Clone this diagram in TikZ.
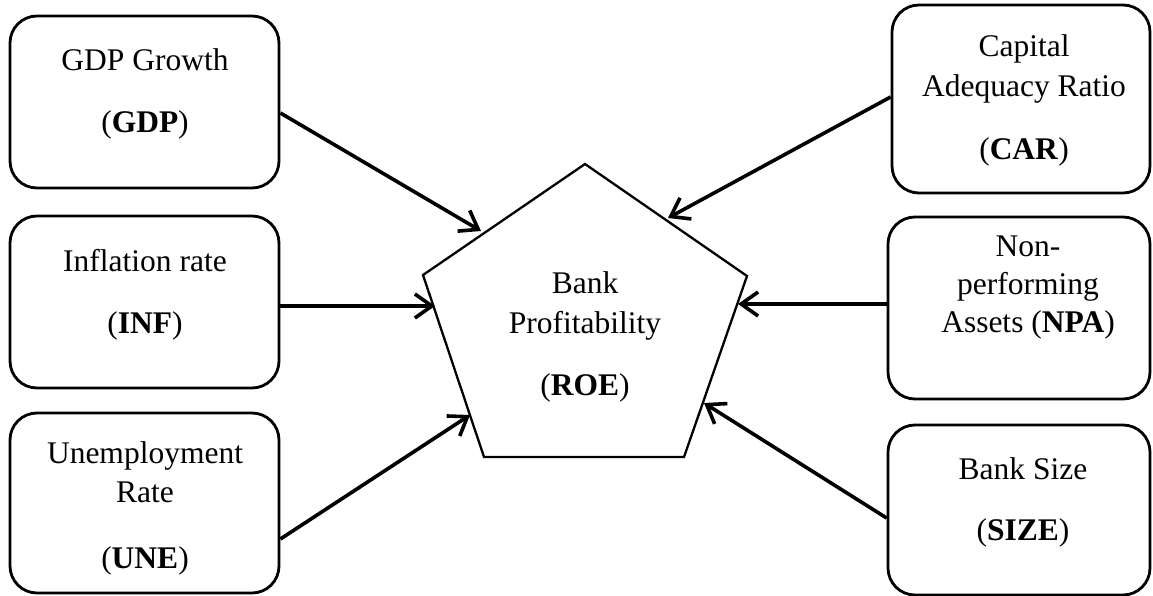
\documentclass[tikz,border=0pt]{standalone}
\usepackage{fontspec}
\setmainfont{Liberation Serif}
\usetikzlibrary{arrows.meta}
\tikzset{
  box/.style={draw, line width=2.8pt, rounded corners=27pt, inner sep=0pt},
  lbl/.style={anchor=base, inner sep=0pt, font=\fontsize{31.5}{38}\selectfont},
  arr/.style={line width=3.6pt, -{Straight Barb[length=17pt,width=24pt]}},
  pent/.style={line width=2.3pt, line join=miter}
}
\begin{document}
\begin{tikzpicture}[x=1pt,y=-1pt]
\useasboundingbox (0,0) rectangle (1153,596);
% boxes
\node[box, minimum width=269pt, minimum height=172pt] (gdp) at (144.5,102) {};
\node[box, minimum width=269pt, minimum height=172pt] (inf) at (144.5,302) {};
\node[box, minimum width=269pt, minimum height=180pt] (une) at (144.5,503) {};
\node[box, minimum width=258pt, minimum height=188pt] (car) at (1021,99) {};
\node[box, minimum width=262pt, minimum height=182pt] (npa) at (1019,308) {};
\node[box, minimum width=262pt, minimum height=170pt] (bsize) at (1019,510) {};
% pentagon
\coordinate (p1) at (585,164);
\coordinate (p2) at (747,276);
\coordinate (p3) at (684,457);
\coordinate (p4) at (484,457);
\coordinate (p5) at (423,275);
\draw[pent] (p1) -- (p2) -- (p3) -- (p4) -- (p5) -- cycle;
% texts
\node[lbl] (gdpA) at (145,71) {GDP Growth};
\node[lbl] (gdpB) at (145,133) {(\textbf{GDP})};
\node[lbl] (infA) at (145,271) {Inflation rate};
\node[lbl] (infB) at (145,333) {(\textbf{INF})};
\node[lbl] (uneA) at (145,463) {Unemployment};
\node[lbl] (uneB) at (145,502) {Rate};
\node[lbl] (uneC) at (145,568) {(\textbf{UNE})};
\node[lbl] (carA) at (1024,57) {Capital};
\node[lbl] (carB) at (1024,97) {Adequacy Ratio};
\node[lbl] (carC) at (1024,160) {(\textbf{CAR})};
\node[lbl] (npaA) at (1028,256) {Non-};
\node[lbl] (npaB) at (1028,294) {performing};
\node[lbl] (npaC) at (1028,332) {Assets (\textbf{NPA})};
\node[lbl] (sizeA) at (1023,479) {Bank Size};
\node[lbl] (sizeB) at (1023,540) {(\textbf{SIZE})};
\node[lbl] (roeA) at (585,293) {Bank};
\node[lbl] (roeB) at (585,333) {Profitability};
\node[lbl] (roeC) at (585,395) {(\textbf{ROE})};
% arrow tips on the pentagon
\coordinate (tgdp) at (481,231);
\coordinate (tinf) at (435,306);
\coordinate (tune) at (470,415);
\coordinate (tcar) at (668,218);
\coordinate (tnpa) at (738,304);
\coordinate (tsize) at (704,403);
% connectors
\draw[arr] ([yshift=-11pt]gdp.east) -- (tgdp);
\draw[arr] ([yshift=-4pt]inf.east) -- (tinf);
\draw[arr] ([yshift=-36pt]une.east) -- (tune);
\draw[arr] ([yshift=2pt]car.west) -- (tcar);
\draw[arr] ([yshift=4pt]npa.west) -- (tnpa);
\draw[arr] ([yshift=-8pt]bsize.west) -- (tsize);
\end{tikzpicture}
\end{document}
